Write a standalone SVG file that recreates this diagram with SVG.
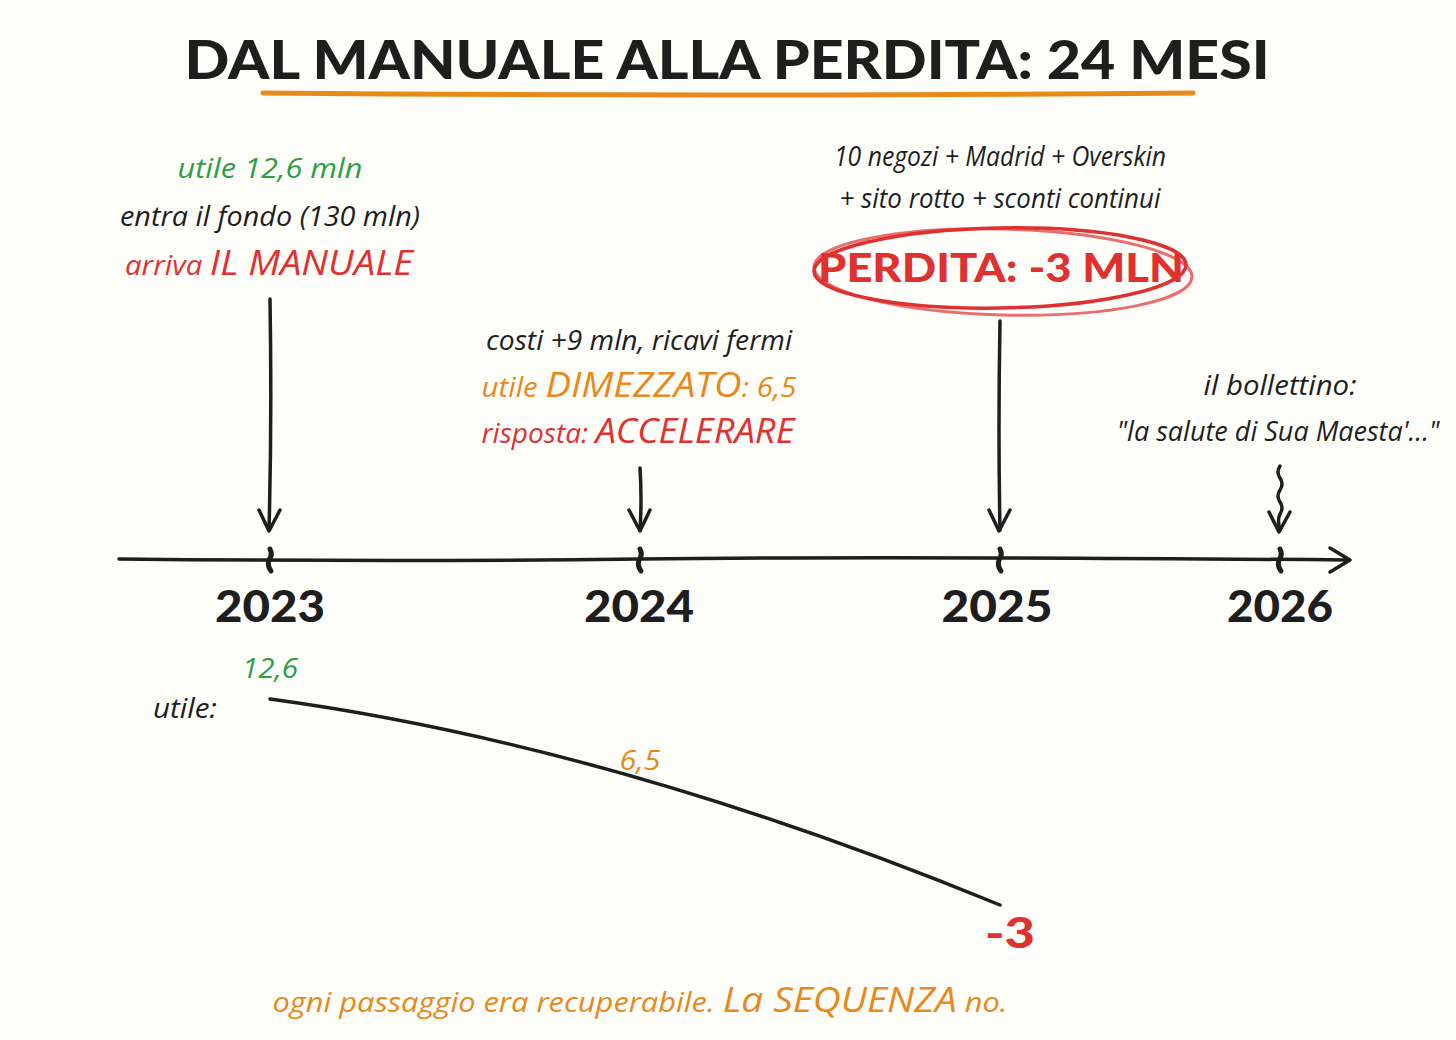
<svg xmlns="http://www.w3.org/2000/svg" width="1456" height="1040" viewBox="0 0 1456 1040">
<style>
.h{font-family:"Open Sans","Noto Sans","DejaVu Sans",sans-serif;font-style:italic;font-size:27px;text-anchor:middle}
.b{font-family:"Lato","DejaVu Sans",sans-serif;font-weight:900;text-anchor:middle}
.dk{fill:#1e1e1e}.gr{fill:#2f9e44}.or{fill:#e8891c}.rd{fill:#e03131}
.ln{fill:none;stroke:#1e1e1e;stroke-width:3.5;stroke-linecap:round;stroke-linejoin:round}
.tk{fill:none;stroke:#1e1e1e;stroke-width:5;stroke-linecap:round}
</style>
<rect width="1456" height="1040" fill="#fdfdfa"/>
<g id="title">
<text class="b dk" x="727" y="79" font-size="54" textLength="1085" lengthAdjust="spacingAndGlyphs">DAL MANUALE ALLA PERDITA: 24 MESI</text>
<path d="M263 93 Q700 97 1193 93" fill="none" stroke="#e8891c" stroke-width="5" stroke-linecap="round"/>
</g>
<g id="axis">
<path class="ln" d="M119 559 Q400 562 640 559 T1348 560"/>
<path class="ln" d="M1330 548 L1350 560 L1330 572"/>
<path class="tk" d="M270 549 q3 6 -1 11 q-2 6 2 11"/>
<path class="tk" d="M640 549 q3 6 -1 11 q-2 6 2 11"/>
<path class="tk" d="M1000 549 q3 6 -1 11 q-2 6 2 11"/>
<path class="tk" d="M1280 549 q3 6 -1 11 q-2 6 2 11"/>
</g>
<g id="years">
<text class="b dk" x="270" y="622" font-size="44" textLength="110" lengthAdjust="spacingAndGlyphs">2023</text>
<text class="b dk" x="639" y="622" font-size="44" textLength="110" lengthAdjust="spacingAndGlyphs">2024</text>
<text class="b dk" x="997" y="622" font-size="44" textLength="111" lengthAdjust="spacingAndGlyphs">2025</text>
<text class="b dk" x="1280" y="622" font-size="44" textLength="106" lengthAdjust="spacingAndGlyphs">2026</text>
</g>
<g id="connectors">
<path class="ln" d="M270 299 Q272 420 269 530"/>
<path class="ln" d="M259 510 L269 531 L280 510"/>
<path class="ln" d="M640 468 Q642 500 640 530"/>
<path class="ln" d="M629 510 L640 531 L650 510"/>
<path class="ln" d="M1000 321 Q998 430 1000 530"/>
<path class="ln" d="M989 510 L999 531 L1010 510"/>
<path class="ln" d="M1280 466 q-4 6 0 12 q4 6 0 12 q-4 6 0 12 q4 6 0 12 q-3 6 0 16"/>
<path class="ln" d="M1269 512 L1279 532 L1290 512"/>
</g>
<g id="n2023">
<text class="h gr" x="270" y="178" textLength="185" lengthAdjust="spacingAndGlyphs">utile 12,6 mln</text>
<text class="h dk" x="270" y="226" textLength="300" lengthAdjust="spacingAndGlyphs">entra il fondo (130 mln)</text>
<text class="h rd" x="269" y="275" textLength="288" lengthAdjust="spacingAndGlyphs">arriva <tspan font-size="35">IL MANUALE</tspan></text>
</g>
<g id="n2024">
<text class="h dk" x="639" y="350" textLength="306" lengthAdjust="spacingAndGlyphs">costi +9 mln, ricavi fermi</text>
<text class="h or" x="639" y="397" textLength="315" lengthAdjust="spacingAndGlyphs">utile <tspan font-size="35">DIMEZZATO</tspan>: 6,5</text>
<text class="h rd" x="638" y="443" textLength="313" lengthAdjust="spacingAndGlyphs">risposta: <tspan font-size="35">ACCELERARE</tspan></text>
</g>
<g id="n2025">
<text class="h dk" x="1000" y="166" font-size="24" textLength="332" lengthAdjust="spacingAndGlyphs">10 negozi + Madrid + Overskin</text>
<text class="h dk" x="1000" y="208" font-size="24" textLength="321" lengthAdjust="spacingAndGlyphs">+ sito rotto + sconti continui</text>
<text class="b rd" x="1001" y="282" font-size="40" textLength="366" lengthAdjust="spacingAndGlyphs">PERDITA: -3 MLN</text>
<ellipse cx="1000" cy="268" rx="186" ry="40" fill="none" stroke="#e03131" stroke-width="3.5" transform="rotate(-1 1000 268)"/>
<ellipse cx="1003" cy="272" rx="189" ry="43" fill="none" stroke="#e03131" stroke-width="3" opacity="0.7" transform="rotate(1.5 1003 272)"/>
</g>
<g id="n2026">
<text class="h dk" x="1280" y="395" textLength="153" lengthAdjust="spacingAndGlyphs">il bollettino:</text>
<text class="h dk" x="1278" y="441" font-size="20">"la salute di Sua Maesta'..."</text>
</g>
<g id="chart">
<text class="h gr" x="270" y="678" font-size="26" textLength="56" lengthAdjust="spacingAndGlyphs">12,6</text>
<text class="h dk" x="185" y="718" font-size="27" textLength="64" lengthAdjust="spacingAndGlyphs">utile:</text>
<path class="ln" d="M270 699 Q610 745 1000 905" stroke-width="4"/>
<text class="h or" x="640" y="770" font-size="24" textLength="41" lengthAdjust="spacingAndGlyphs">6,5</text>
<text class="b rd" x="1010" y="948" font-size="42" textLength="50" lengthAdjust="spacingAndGlyphs">-3</text>
</g>
<g id="caption">
<text class="h or" x="640" y="1012" font-size="28" textLength="735" lengthAdjust="spacingAndGlyphs">ogni passaggio era recuperabile. <tspan font-size="34">La SEQUENZA</tspan> no.</text>
</g>
</svg>
